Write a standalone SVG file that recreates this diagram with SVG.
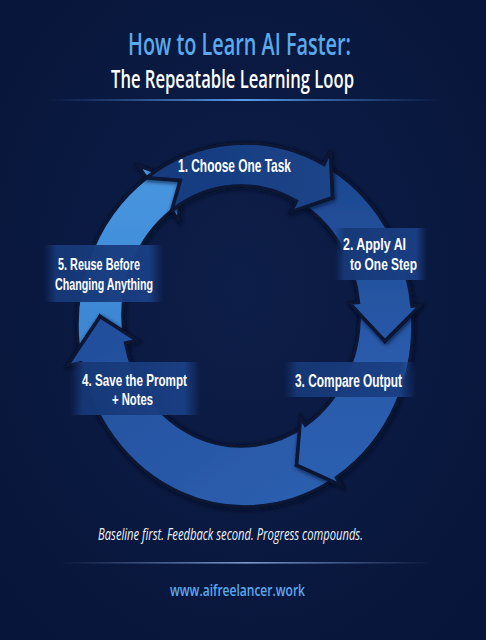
<svg xmlns="http://www.w3.org/2000/svg" width="486" height="640" viewBox="0 0 486 640">
  <defs>
    <radialGradient id="bg" cx="50%" cy="45%" r="70%">
      <stop offset="0" stop-color="#0d1e48"/>
      <stop offset="1" stop-color="#08153a"/>
    </radialGradient>
    <linearGradient id="line1" x1="0" y1="0" x2="1" y2="0">
      <stop offset="0" stop-color="#3f7fd6" stop-opacity="0"/>
      <stop offset="0.5" stop-color="#5a9be8" stop-opacity="1"/>
      <stop offset="1" stop-color="#3f7fd6" stop-opacity="0"/>
    </linearGradient>
    <linearGradient id="line2" x1="0" y1="0" x2="1" y2="0">
      <stop offset="0" stop-color="#6f8cc0" stop-opacity="0"/>
      <stop offset="0.5" stop-color="#7f9ccc" stop-opacity="1"/>
      <stop offset="1" stop-color="#6f8cc0" stop-opacity="0"/>
    </linearGradient>
    <linearGradient id="g1" x1="0" y1="0" x2="1" y2="0">
      <stop offset="0" stop-color="#163a7e"/>
      <stop offset="1" stop-color="#1c4488"/>
    </linearGradient>
    <linearGradient id="g2" x1="0" y1="0" x2="0" y2="1">
      <stop offset="0" stop-color="#1d4890"/>
      <stop offset="1" stop-color="#2858a8"/>
    </linearGradient>
    <linearGradient id="g3" x1="0" y1="0" x2="0" y2="1">
      <stop offset="0" stop-color="#2858a8"/>
      <stop offset="1" stop-color="#2c5fb0"/>
    </linearGradient>
    <linearGradient id="g4" x1="1" y1="1" x2="0" y2="0">
      <stop offset="0" stop-color="#2c60b0"/>
      <stop offset="1" stop-color="#224d9a"/>
    </linearGradient>
    <linearGradient id="g5" x1="0" y1="1" x2="0" y2="0">
      <stop offset="0" stop-color="#3a84d2"/>
      <stop offset="1" stop-color="#4896e0"/>
    </linearGradient>
    <linearGradient id="box" x1="0" y1="0" x2="1" y2="0">
      <stop offset="0" stop-color="#143573" stop-opacity="0"/>
      <stop offset="0.1" stop-color="#163876" stop-opacity="0.96"/>
      <stop offset="0.88" stop-color="#1a3f84" stop-opacity="0.96"/>
      <stop offset="1" stop-color="#1a3f84" stop-opacity="0"/>
    </linearGradient>
    <filter id="sh" x="-20%" y="-20%" width="140%" height="140%">
      <feDropShadow dx="1" dy="1.5" stdDeviation="2.2" flood-color="#030a20" flood-opacity="0.8"/>
    </filter>
  </defs>
  <style>
    .seg { stroke: #071331; stroke-width: 3.5; stroke-linejoin: miter; }
    .lbl { font-family: "Liberation Sans", Arial, sans-serif; font-weight: 700; fill: #ffffff; }
    .ttl { font-family: "Open Sans", "Noto Sans", "Liberation Sans", sans-serif; font-weight: 600; }
  </style>

  <rect width="486" height="640" fill="url(#bg)"/>

  <g id="header">
    <text class="ttl" x="128" y="55" font-size="30" fill="#5aa9ea" textLength="223" lengthAdjust="spacingAndGlyphs">How to Learn AI Faster:</text>
    <text class="ttl" x="111" y="88" font-size="25" fill="#ffffff" textLength="243" lengthAdjust="spacingAndGlyphs">The Repeatable Learning Loop</text>
    <rect x="47" y="99" width="396" height="2" fill="url(#line1)"/>
  </g>

  <g id="connectors">
    <path id="arc5" class="seg" fill="url(#g5)" filter="url(#sh)" d="M80.7,362.8 A168,182 0 0 1 146.3,177.8 L138.0,165.6 L180.3,180.3 L178.7,220.5 L171.6,210.8 A118,130 0 0 0 125.6,343.0 L100.0,316.5 Z"/>
    <path id="arc4" class="seg" fill="url(#g4)" filter="url(#sh)" d="M336.5,477.6 A168,182 0 0 1 80.7,362.8 L67.0,366.0 L100.0,316.5 L137.3,340.5 L125.6,343.0 A118,130 0 0 0 305.3,425.0 L296.6,465.1 Z"/>
    <path id="arc3" class="seg" fill="url(#g3)" filter="url(#sh)" d="M412.1,306.0 A168,182 0 0 1 336.5,477.6 L341.5,485.5 L296.6,465.1 L300.5,417.5 L305.3,425.0 A118,130 0 0 0 358.4,302.4 L384.9,341.0 Z"/>
    <path id="arc2" class="seg" fill="url(#g2)" filter="url(#sh)" d="M323.9,164.3 A168,182 0 0 1 412.1,306.0 L420.5,305.3 L384.9,341.0 L349.5,303.1 L358.4,302.4 A118,130 0 0 0 296.4,201.2 L332.5,197.6 Z"/>
    <path id="arc1" class="seg" fill="url(#g1)" filter="url(#sh)" d="M146.3,177.8 A168,182 0 0 1 323.9,164.3 L330.4,151.1 L332.5,197.6 L290.8,211.8 L296.4,201.2 A118,130 0 0 0 171.6,210.8 L180.3,180.3 Z"/>
  </g>

  <g id="step1">
    <text class="lbl" x="178" y="172" font-size="19" textLength="113" lengthAdjust="spacingAndGlyphs">1. Choose One Task</text>
  </g>
  <g id="step2">
    <rect x="335" y="228" width="92" height="52" fill="url(#box)"/>
    <text class="lbl" x="343" y="250" font-size="17" textLength="63" lengthAdjust="spacingAndGlyphs">2. Apply AI</text>
    <text class="lbl" x="350" y="270" font-size="17" textLength="67" lengthAdjust="spacingAndGlyphs">to One Step</text>
  </g>
  <g id="step3">
    <rect x="284" y="362" width="132" height="35" fill="url(#box)"/>
    <text class="lbl" x="295" y="387" font-size="18" textLength="107" lengthAdjust="spacingAndGlyphs">3. Compare Output</text>
  </g>
  <g id="step4">
    <rect x="70" y="362" width="130" height="53" fill="url(#box)"/>
    <text class="lbl" x="82" y="386" font-size="17" textLength="105" lengthAdjust="spacingAndGlyphs">4. Save the Prompt</text>
    <text class="lbl" x="112" y="405" font-size="17" textLength="41" lengthAdjust="spacingAndGlyphs">+ Notes</text>
  </g>
  <g id="step5">
    <rect x="44" y="245" width="119" height="57" fill="url(#box)"/>
    <text class="lbl" x="58" y="270" font-size="17" textLength="82" lengthAdjust="spacingAndGlyphs">5. Reuse Before</text>
    <text class="lbl" x="55" y="290" font-size="17" textLength="98" lengthAdjust="spacingAndGlyphs">Changing Anything</text>
  </g>

  <g id="footer">
    <text x="98" y="540" font-family="'Open Sans', 'Noto Sans', 'Liberation Sans', sans-serif" font-style="italic" font-weight="500" font-size="16" fill="#eef2fa" textLength="265" lengthAdjust="spacingAndGlyphs">Baseline first. Feedback second. Progress compounds.</text>
    <rect x="60" y="562" width="373" height="1.6" fill="url(#line2)"/>
    <text class="ttl" x="170" y="596" font-size="17" fill="#5aa9ee" textLength="135" lengthAdjust="spacingAndGlyphs">www.aifreelancer.work</text>
  </g>
</svg>
